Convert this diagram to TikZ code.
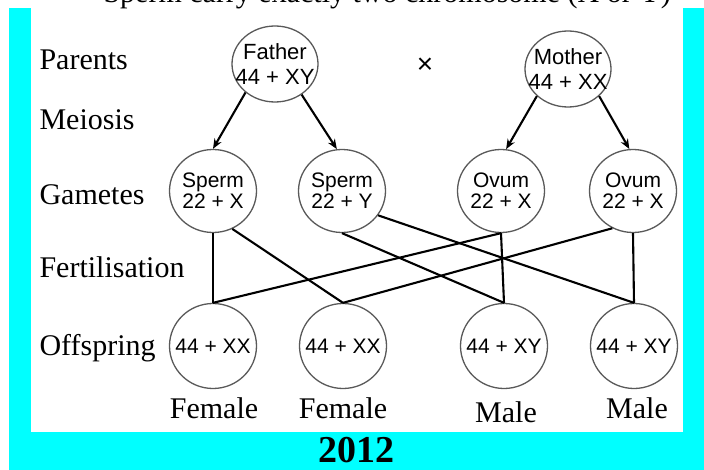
\documentclass[tikz,border=0pt]{standalone}
\usepackage{fontspec}
\setmainfont{Liberation Serif}
\setsansfont{Liberation Sans}
\usetikzlibrary{arrows.meta,shapes.geometric}

\definecolor{band}{RGB}{0,255,255}
\tikzset{
    cell/.style={ellipse, draw=black!65, line width=1.3pt, inner sep=0pt},
    parent/.style={cell, minimum width=86pt, minimum height=76pt},
    gamete/.style={cell, minimum width=87pt, minimum height=83pt},
    child/.style={cell, minimum width=87pt, minimum height=85pt},
    ptext/.style={align=center, font=\sffamily\fontsize{22}{25}\selectfont},
    gtext/.style={align=center, font=\sffamily\fontsize{21}{21}\selectfont},
    stage/.style={anchor=base west, font=\fontsize{30}{32}\selectfont},
    sex/.style={anchor=base, font=\fontsize{30}{32}\selectfont},
    link/.style={line width=2.1pt}
}

\begin{document}
\begin{tikzpicture}[x=1pt,y=-1pt]
    \useasboundingbox (0,0) rectangle (704,470);
    \fill[white] (0,0) rectangle (704,470);
    \fill[band] (9,8) rectangle (704,470);
    \fill[white] (31,8) rectangle (683,432);

    % cut off heading
    \begin{scope}
    \clip (0,0) rectangle (704,20);
    \node[anchor=base west, font=\fontsize{30}{32}\selectfont] (head) at (100,3) {Sperm carry exactly two chromosome (X or Y)};
    \end{scope}

    \node[stage] (parents) at (36,70) {Parents};
    \node[stage] (meiosis) at (36,130) {Meiosis};
    \node[stage] (gametes) at (36,205) {Gametes};
    \node[stage] (fert) at (36,278) {Fertilisation};
    \node[stage] (offspring) at (36,355) {Offspring};

    \node[parent, label={[ptext]center:{Father\\44 + XY}}] (father) at (275,64) {};
    \node[parent, label={[ptext]center:{Mother\\44 + XX}}] (mother) at (568,69) {};
    \node[font=\sffamily\fontsize{28}{28}\selectfont] (cross) at (425,66) {×};

    \node[gamete, label={[gtext]center:{Sperm\\22 + X}}] (sx) at (213,191) {};
    \node[gamete, label={[gtext]center:{Sperm\\22 + Y}}] (sy) at (342,191) {};
    \node[gamete, label={[gtext]center:{Ovum\\22 + X}}] (ov1) at (501,191) {};
    \node[gamete, label={[gtext]center:{Ovum\\22 + X}}] (ov2) at (633,191) {};

    \node[child, label={[gtext]center:44 + XX}] (o1) at (213,346) {};
    \node[child, label={[gtext]center:44 + XX}] (o2) at (343,346) {};
    \node[child, label={[gtext]center:44 + XY}] (o3) at (504,346) {};
    \node[child, label={[gtext]center:44 + XY}] (o4) at (634,346) {};

    \node[sex] (f1) at (214,418) {Female};
    \node[sex] (f2) at (343,418) {Female};
    \node[sex] (m1) at (506,422) {Male};
    \node[sex] (m2) at (637,418) {Male};

    \node[font=\bfseries\fontsize{38}{38}\selectfont, inner sep=0pt] (year) at (356,450) {2012};

    \path[->, >={Stealth[length=10pt,width=8pt]}, link]
    (father.-136) edge (sx.north)
    (father.-49) edge (sy.97)
    (mother.-139) edge (ov1.83)
    (mother.-41) edge (ov2.95);

    \path[link]
    (sx.south) edge (o1.north)
    (sx.-63) edge (o2.north)
    (sy.south) edge (o3.north)
    (sy.-34) edge (o4.north)
    (ov1.south) edge (o1.north)
    (ov1.south) edge (o3.north)
    (ov2.-119) edge (o2.north)
    (ov2.south) edge (o4.north);
\end{tikzpicture}
\end{document}
